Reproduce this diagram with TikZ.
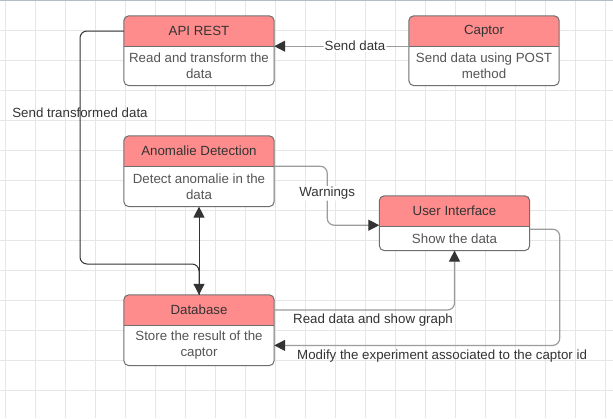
\documentclass[tikz,border=0pt]{standalone}
\usepackage{fontspec}
\setmainfont{Liberation Sans}
\usetikzlibrary{positioning,calc,arrows.meta,backgrounds}
\definecolor{headred}{HTML}{FF8C8C}
\definecolor{boxgray}{HTML}{6E6E6E}
\definecolor{ink}{HTML}{333333}
\definecolor{bodyink}{HTML}{555555}
\definecolor{wire}{HTML}{9C9C9C}
\definecolor{gridgray}{HTML}{E6E6E6}
\definecolor{topline}{HTML}{B4BCC6}

\tikzset{
  txt/.style={font=\fontsize{13.3}{16}\selectfont},
  head/.style={txt, minimum width=150pt, minimum height=30pt, inner sep=0pt, text=ink},
  body/.style={txt, minimum width=150pt, inner sep=0pt, align=center, text=bodyink, below=0pt of #1},
  tip/.style={-{Triangle[length=11pt,width=11pt,color=ink]}},
  darkwire/.style={draw=ink, line width=1pt, rounded corners=7pt},
  lightwire/.style={draw=wire, line width=1.2pt, rounded corners=7pt},
  wirelabel/.style={txt, text=ink, inner sep=1pt}
}

\begin{document}
\begin{tikzpicture}[x=1pt, y=-1pt]
\useasboundingbox (0,0) rectangle (613,418);

% grid paper
\begin{scope}[on background layer]
  \fill[white] (0,0) rectangle (613,418);
  \foreach \gx in {5,35,...,605} \draw[gridgray, line width=1pt] (\gx,0) -- (\gx,418);
  \foreach \gy in {30,60,...,390} \draw[gridgray, line width=1pt] (0,\gy) -- (613,\gy);
  \draw[topline, line width=1.2pt] (0,0.6) -- (613,0.6);
\end{scope}

\node[head] (api) at (199,31) {API REST};
\node[body=api, minimum height=39pt] (apitext) {Read and transform the\\data};
\node[head] (captor) at (484,31) {Captor};
\node[body=captor, minimum height=39pt] (captortext) {Send data using POST\\method};
\node[head] (anomaly) at (199,151) {Anomalie Detection};
\node[body=anomaly, minimum height=40pt] (anomalytext) {Detect anomalie in the\\data};
\node[head] (ui) at (454.5,211) {User Interface};
\node[body=ui, minimum height=24pt] (uitext) {Show the data};
\node[head] (db) at (199,310) {Database};
\node[body=db, minimum height=40pt] (dbtext) {Store the result of the\\captor};

% box fills and frames
\begin{scope}[on background layer]
  \foreach \b in {api,captor,anomaly,ui,db} {
    \fill[white, rounded corners=5pt] (\b.north west) rectangle (\b text.south east);
    \begin{scope}
      \clip[rounded corners=5pt] (\b.north west) rectangle (\b text.south east);
      \fill[headred] (\b.north west) rectangle (\b.south east);
    \end{scope}
  }
\end{scope}
\foreach \b in {api,captor,anomaly,ui,db} {
  \draw[boxgray, line width=1pt, rounded corners=5pt] (\b.north west) rectangle (\b text.south east);
  \draw[boxgray, line width=1pt] (\b.south west) -- (\b.south east);
}

\coordinate (bend) at (80,264);

\draw[lightwire, tip] (captor.south west) -- node[wirelabel, fill=white, pos=0.4] {Send data} (api.south east);
\draw[darkwire, tip] (api.west) -- (api.west -| bend)
  -- node[wirelabel, pos=0.35] {Send transformed data} (bend)
  -- (bend -| db.north) -- (db.north);
\draw[darkwire, tip, {Triangle[length=11pt,width=11pt,color=ink]}-] (anomalytext.south) -- (db.north);
\draw[lightwire, tip] (anomaly.south east) -- ++(53,0)
  |- node[wirelabel, fill=white, pos=0.23] {Warnings} ($(ui.south west)+(0,-1)$);
\draw[lightwire, tip] (db.east) -| node[wirelabel, anchor=north, pos=0.274, yshift=-2pt] {Read data and show graph} (uitext.south);
\draw[lightwire, tip] ($(uitext.north east)+(0,3)$) -- ++(30,0)
  |- node[wirelabel, anchor=north, pos=0.706, yshift=-3pt] {Modify the experiment associated to the captor id} (dbtext.east);
\end{tikzpicture}
\end{document}
